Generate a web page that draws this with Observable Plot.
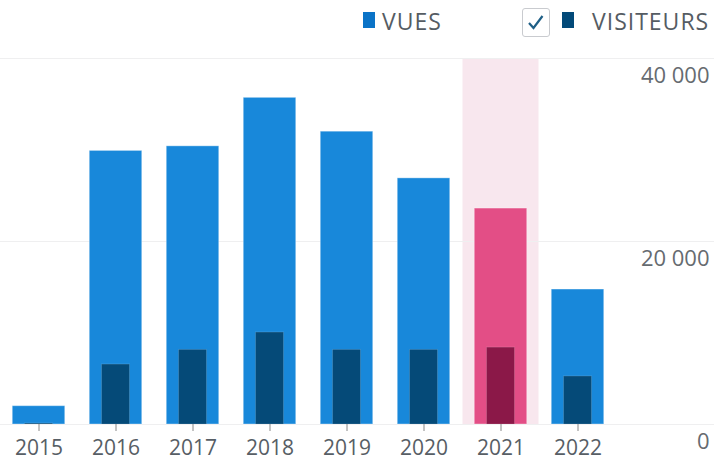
<!DOCTYPE html>
<html>
<head>
<meta charset="utf-8">
<script src="https://cdn.jsdelivr.net/npm/d3@7"></script>
<script src="https://cdn.jsdelivr.net/npm/@observablehq/plot@0.6"></script>
<style>
  html, body { margin: 0; padding: 0; background: #fff; }
  #wrap { position: relative; width: 714px; height: 460px; overflow: hidden; font-family: "Open Sans", sans-serif; }
  #chart { position: absolute; left: 0; top: 0; }
  .legend { position: absolute; top: 0; left: 0; width: 714px; height: 40px; }
  .sw { position: absolute; top: 12px; width: 12px; height: 16px; }
  .lab { position: absolute; top: 6px; font-size: 23px; letter-spacing: 1px; color: #555c63; line-height: 30px; }
  .cb { position: absolute; left: 522px; top: 8px; width: 28px; height: 29px; box-sizing: border-box; border: 1px solid #c9cbcf; border-radius: 3px; background: #fff; }
</style>
</head>
<body>
<div id="wrap">
  <div id="chart"></div>
  <div class="legend">
    <div class="sw" style="left:363px;background:#0b73c7"></div>
    <div class="lab" style="left:382px">VUES</div>
    <div class="cb"><svg width="26" height="27" viewBox="0 0 26 27"><polyline points="6,14 10.5,19 19.5,7" fill="none" stroke="#1f5f86" stroke-width="2.2"/></svg></div>
    <div class="sw" style="left:562px;background:#034a79"></div>
    <div class="lab" style="left:592px">VISITEURS</div>
  </div>
</div>
<script>
const years = ["2015", "2016", "2017", "2018", "2019", "2020", "2021", "2022"];
const views = [2000, 29900, 30400, 35700, 32000, 26900, 23600, 14750];
const visitors = [100, 6550, 8150, 10050, 8150, 8150, 8400, 5250];
const highlightYear = "2021";
const yTicks = [0, 20000, 40000];
const yMax = 40000;

const data = years.map((year, i) => ({year, views: views[i], visitors: visitors[i]}));
const fmt = d => d3.format(",")(d).replace(/,/g, " ");

const chart = Plot.plot({
  width: 714,
  height: 460,
  marginTop: 58,
  marginBottom: 36,
  marginLeft: 0,
  marginRight: 0,
  style: {fontFamily: "Open Sans, sans-serif", background: "#fff"},
  x: {domain: years, range: [0, 616], padding: 0, axis: null, label: null},
  y: {domain: [0, yMax], axis: null, label: null},
  marks: [
    Plot.barY([highlightYear], {x: d => d, y1: 0, y2: yMax, fill: "#f8e7ee", insetLeft: 0.5, insetRight: 0.5}),
    Plot.ruleY(yTicks, {stroke: "#efeff0", strokeWidth: 1}),
    Plot.barY(data, {
      x: "year", y: "views",
      fill: d => d.year === highlightYear ? "#e34e86" : "#1888da",
      stroke: "#ffffff", strokeOpacity: 0.35, strokeWidth: 1,
      insetLeft: 12.25, insetRight: 12.25
    }),
    Plot.barY(data, {
      x: "year", y: "visitors",
      fill: d => d.year === highlightYear ? "#8b1848" : "#054a78",
      stroke: "#ffffff", strokeOpacity: 0.15, strokeWidth: 1,
      insetLeft: 24.5, insetRight: 24.5
    }),
    Plot.axisX({tickSize: 7, tickPadding: 9, fontSize: 21, stroke: "#888", fill: "#575e65", label: null, tickFormat: d => d}),
    Plot.axisY(yTicks, {anchor: "right", tickSize: 0, tickPadding: 0, textAnchor: "end", dx: -5, dy: 17, fontSize: 22, fill: "#666b70", label: null, tickFormat: fmt})
  ]
});
document.getElementById("chart").appendChild(chart);
</script>
</body>
</html>
